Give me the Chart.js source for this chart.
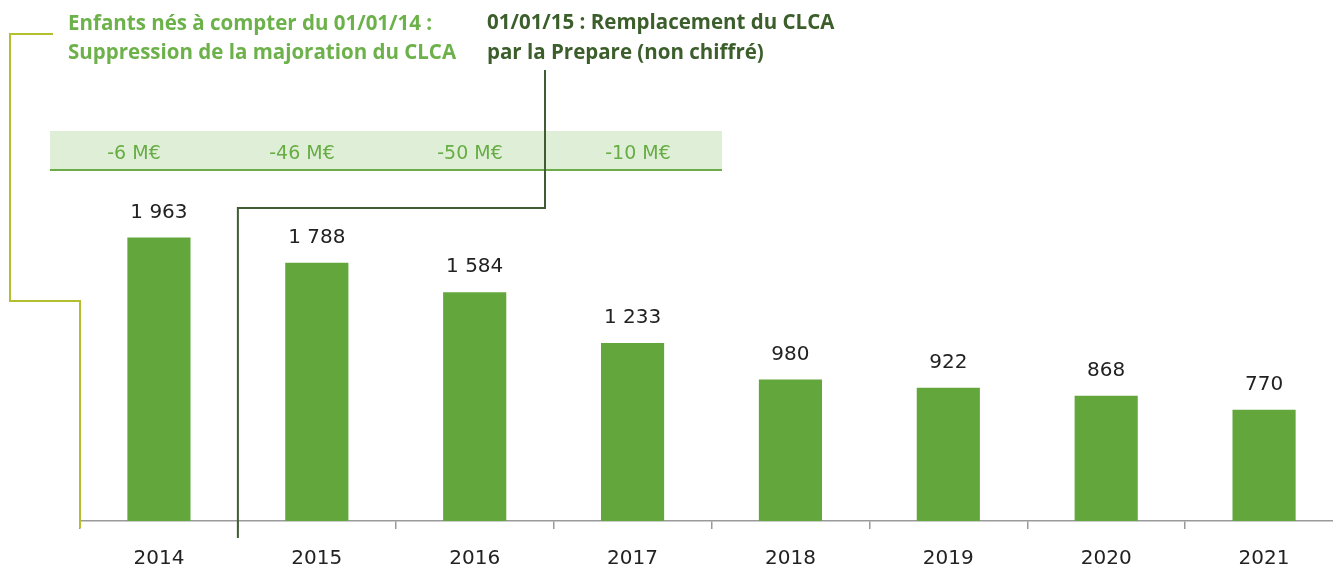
<!DOCTYPE html>
<html>
<head>
<meta charset="utf-8">
<script src="https://cdn.jsdelivr.net/npm/chart.js@4/dist/chart.umd.min.js"></script>
<style>
  html, body { margin: 0; padding: 0; background: #fff; overflow: hidden; }
  #wrap { width: 1343px; height: 591px; }
</style>
</head>
<body>
<div id="wrap"><canvas id="clca"></canvas></div>
<script>
// données
const annees = ['2014', '2015', '2016', '2017', '2018', '2019', '2020', '2021'];
const depenses = [1963, 1788, 1584, 1233, 980, 922, 868, 770];
const economies = ['-6 M€', '-46 M€', '-50 M€', '-10 M€'];
const note1 = ['Enfants nés à compter du 01/01/14 :', 'Suppression de la majoration du CLCA'];
const note2 = ['01/01/15 : Remplacement du CLCA', 'par la Prepare (non chiffré)'];

const VERT = '#63a73c';
const FONT_TITRE = '"Open Sans", sans-serif';
const FONT_NUM = '"DejaVu Sans", sans-serif';

function fmt(v) {
    return String(v).replace(/\B(?=(\d{3})+(?!\d))/g, ' ');
}

// étiquettes au-dessus des barres
const valeurs = {
    id: 'valeurs',
    afterDatasetsDraw(chart) {
        const ctx = chart.ctx;
        const meta = chart.getDatasetMeta(0);
        ctx.save();
        ctx.font = '20px ' + FONT_NUM;
        ctx.fillStyle = '#222';
        ctx.textAlign = 'center';
        ctx.textBaseline = 'middle';
        meta.data.forEach((bar, i) => {
            ctx.fillText(fmt(depenses[i]), bar.x, bar.y - 25);
        });
        ctx.restore();
    }
};

// bandeau des économies, notes et traits de rappel
const notes = {
    id: 'notes',
    afterDraw(chart) {
        const ctx = chart.ctx;
        const x = chart.scales.x;
        ctx.save();

        // bandeau
        ctx.fillStyle = '#dfeed6';
        ctx.fillRect(50, 131, 672, 39);
        ctx.strokeStyle = '#6aad48';
        ctx.lineWidth = 2;
        ctx.beginPath();
        ctx.moveTo(50, 170);
        ctx.lineTo(722, 170);
        ctx.stroke();
        ctx.font = '19px ' + FONT_NUM;
        ctx.fillStyle = '#68ad44';
        ctx.textAlign = 'center';
        ctx.textBaseline = 'middle';
        economies.forEach((t, i) => {
            ctx.fillText(t, 50 + 84 + i * 168, 154);
        });

        // traits
        const x0 = x.left;
        const x1 = x.getPixelForValue(0.5);
        const base = x.top;
        ctx.lineWidth = 2;
        ctx.strokeStyle = '#b4bf2e';
        ctx.beginPath();
        ctx.moveTo(53, 34);
        ctx.lineTo(10, 34);
        ctx.lineTo(10, 301);
        ctx.lineTo(x0, 301);
        ctx.lineTo(x0, base + 7);
        ctx.stroke();

        ctx.strokeStyle = '#3f5c34';
        ctx.beginPath();
        ctx.moveTo(545, 70);
        ctx.lineTo(545, 208);
        ctx.lineTo(x1, 208);
        ctx.lineTo(x1, base + 17);
        ctx.stroke();

        // notes
        ctx.font = 'bold 20.5px ' + FONT_TITRE;
        ctx.textAlign = 'left';
        ctx.fillStyle = '#6cb14a';
        ctx.fillText(note1[0], 68, 24);
        ctx.fillText(note1[1], 68, 53);
        ctx.fillStyle = '#3b5e2b';
        ctx.fillText(note2[0], 487, 23);
        ctx.fillText(note2[1], 487, 53);
        ctx.restore();
    }
};

const ctx_clca = document.getElementById('clca').getContext('2d');
const chart_clca = new Chart(ctx_clca, {
    type: 'bar',
    data: {
        labels: annees,
        datasets: [{
            data: depenses,
            backgroundColor: VERT,
            barPercentage: 0.4,
            categoryPercentage: 1
        }]
    },
    options: {
        responsive: true,
        maintainAspectRatio: false,
        animation: false,
        layout: { padding: { left: 80, right: 0, top: 160, bottom: 2 } },
        plugins: { legend: { display: false }, tooltip: { enabled: false } },
        scales: {
            x: {
                grid: {
                    offset: true,
                    drawOnChartArea: false,
                    color: '#9a9a9a',
                    tickLength: 8,
                    lineWidth: 1.5
                },
                border: { color: '#9a9a9a', width: 1.5 },
                ticks: {
                    color: '#222',
                    padding: 18,
                    font: { family: FONT_NUM, size: 20 }
                }
            },
            y: {
                display: false,
                min: 0,
                max: 2500
            }
        }
    },
    plugins: [valeurs, notes]
});
</script>
</body>
</html>
